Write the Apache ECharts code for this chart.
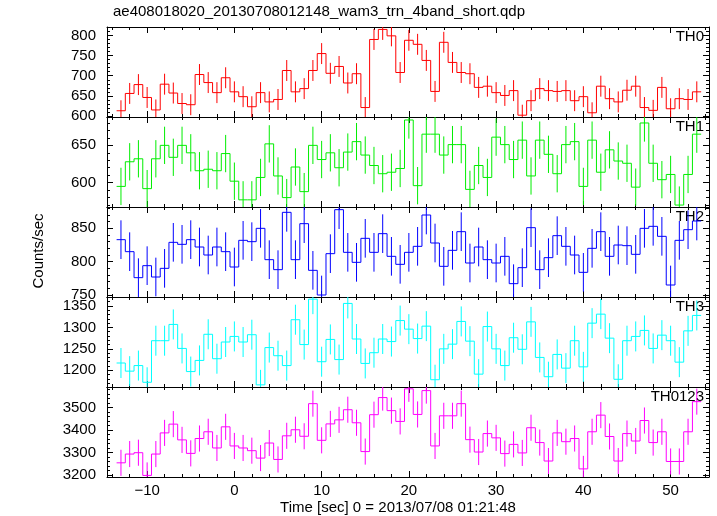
<!DOCTYPE html>
<html><head><meta charset="utf-8">
<script src="https://cdn.jsdelivr.net/npm/echarts@6/dist/echarts.min.js"></script>
<style>html,body{margin:0;padding:0;background:#fff}#c{width:717px;height:516px}</style>
</head><body><div id="c"></div>
<script>
// ---- data ----
const timeSec = [-13,-12,-11,-10,-9,-8,-7,-6,-5,-4,-3,-2,-1,0,1,2,3,4,5,6,7,8,9,10,11,12,13,14,15,16,17,18,19,20,21,22,23,24,25,26,27,28,29,30,31,32,33,34,35,36,37,38,39,40,41,42,43,44,45,46,47,48,49,50,51,52,53];
const th0 = [613,656,678,646,615,679,657,631,628,703,
             683,658,695,660,648,623,658,635,641,713,
             660,668,713,755,706,723,682,705,621,790,
             815,799,708,788,778,738,661,783,733,708,
             705,671,674,658,651,663,602,638,668,663,
             661,663,638,648,608,674,643,635,664,674,
             621,614,671,618,643,641,660];
const th1 = [595,628,632,592,632,650,634,650,640,616,
             618,616,639,602,577,577,607,652,609,580,
             621,588,650,631,640,620,641,655,637,623,
             612,614,619,684,596,665,665,637,651,651,
             591,623,607,661,651,631,657,609,657,638,
             612,651,655,595,657,614,644,629,626,594,
             680,626,604,611,570,611,665];
const th2 = [833,815,776,794,777,790,829,826,833,822,
             810,822,815,792,832,830,850,803,788,874,
             803,857,787,750,812,878,814,799,835,814,
             842,808,796,814,823,870,828,793,817,845,
             798,822,803,798,808,767,791,851,788,806,
             839,823,810,784,820,845,808,825,824,811,
             850,853,838,765,832,848,861];
const th3 = [1217,1198,1211,1172,1269,1269,1307,1251,1197,1223,
             1284,1227,1266,1279,1266,1283,1166,1253,1234,1211,
             1318,1260,1366,1220,1272,1225,1356,1273,1216,1241,
             1273,1267,1316,1296,1274,1303,1178,1250,1261,1314,
             1268,1191,1302,1250,1211,1276,1249,1313,1230,1185,
             1237,1205,1269,1208,1310,1331,1275,1179,1269,1279,
             1293,1251,1282,1269,1219,1292,1328];
const th0123 = [3255,3294,3300,3199,3294,3388,3427,3357,3297,3363,
                3393,3321,3415,3330,3321,3309,3276,3343,3270,3375,
                3402,3373,3518,3355,3428,3446,3491,3433,3305,3469,
                3545,3487,3439,3584,3470,3576,3330,3464,3464,3518,
                3358,3303,3385,3366,3296,3337,3299,3411,3345,3263,
                3388,3349,3363,3228,3393,3467,3372,3263,3385,3352,
                3443,3345,3393,3261,3261,3393,3527];
const errHalf = [26, 25, 29, 35, 58];
const panelNames = ['TH0', 'TH1', 'TH2', 'TH3', 'TH0123'];
const yMajorTicks = [[600,650,700,750,800],[600,650],[750,800,850],[1200,1250,1300,1350],[3200,3300,3400,3500]];
const yMinorStep = [10, 10, 10, 10, 20];
const yMin = [597.5, 567.4, 747, 1161, 3192];
const yMax = [821, 688, 882, 1371, 3592];
const xMajorTicks = [-10, 0, 10, 20, 30, 40, 50];
const xMinorStep = 2;
const xMin = -14.6, xMax = 54.4;
const binWidth = 1;
const titleText = 'ae408018020_20130708012148_wam3_trn_4band_short.qdp';
const xTitle = 'Time [sec] 0 = 2013/07/08 01:21:48';
const yTitle = 'Counts/sec';

// ---- styling ----
const panelSeries = [th0, th1, th2, th3, th0123];
const panelColors = ['#ff0000', '#00ee00', '#0000ff', '#00ffff', '#ff00ff'];
const FONT = 'Liberation Sans, Arial, Helvetica, sans-serif';
const gridLeft = 107, gridRight = 8, gridTop0 = 27, panelH = 90;

function stepValues(lo, hi, step) {
  const out = [];
  for (let v = Math.ceil(lo / step) * step; v <= hi; v += step) out.push(v);
  return out;
}

const grids = [], xAxes = [], yAxes = [], series = [], graphics = [];
panelSeries.forEach((vals, g) => {
  const top = gridTop0 + panelH * g;
  grids.push({left: gridLeft, right: gridRight, top: top, height: panelH, containLabel: false});
  const last = g === panelSeries.length - 1;
  const xMinor = stepValues(xMin, xMax, xMinorStep);
  const yMinor = stepValues(yMin[g], yMax[g], yMinorStep[g]);
  const baseX = {type: 'value', gridIndex: g, min: xMin, max: xMax, splitLine: {show: false},
                 axisLine: {show: false, onZero: false}, axisLabel: {show: false}};
  xAxes.push(Object.assign({}, baseX, {position: 'bottom',
    axisLine: {show: true, onZero: false, lineStyle: {color: '#000', width: 1}},
    axisTick: {show: true, inside: true, length: 6, customValues: xMajorTicks, lineStyle: {color: '#000'}},
    axisLabel: last ? {show: true, customValues: xMajorTicks, color: '#000', fontSize: 15, fontFamily: FONT, margin: 6,
      formatter: v => String(v).replace('-', '\u2212')} : {show: false}}));
  xAxes.push(Object.assign({}, baseX, {position: 'top',
    axisLine: {show: true, onZero: false, lineStyle: {color: '#000', width: 1}},
    axisTick: {show: true, inside: true, length: 6, customValues: xMajorTicks, lineStyle: {color: '#000'}}}));
  xAxes.push(Object.assign({}, baseX, {position: 'bottom',
    axisTick: {show: true, inside: true, length: 3, customValues: xMinor, lineStyle: {color: '#000'}}}));
  xAxes.push(Object.assign({}, baseX, {position: 'top',
    axisTick: {show: true, inside: true, length: 3, customValues: xMinor, lineStyle: {color: '#000'}}}));

  const baseY = {type: 'value', gridIndex: g, min: yMin[g], max: yMax[g], splitLine: {show: false},
                 axisLine: {show: false, onZero: false}, axisLabel: {show: false}};
  yAxes.push(Object.assign({}, baseY, {position: 'left',
    axisLine: {show: true, onZero: false, lineStyle: {color: '#000', width: 1}},
    axisTick: {show: true, inside: true, length: 6, customValues: yMajorTicks[g], lineStyle: {color: '#000'}},
    axisLabel: {show: true, customValues: yMajorTicks[g], color: '#000', fontSize: 15, fontFamily: FONT, margin: 11,
      formatter: v => String(v)}}));
  yAxes.push(Object.assign({}, baseY, {position: 'right',
    axisLine: {show: true, onZero: false, lineStyle: {color: '#000', width: 1}},
    axisTick: {show: true, inside: true, length: 6, customValues: yMajorTicks[g], lineStyle: {color: '#000'}}}));
  yAxes.push(Object.assign({}, baseY, {position: 'left',
    axisTick: {show: true, inside: true, length: 3, customValues: yMinor, lineStyle: {color: '#000'}}}));
  yAxes.push(Object.assign({}, baseY, {position: 'right',
    axisTick: {show: true, inside: true, length: 3, customValues: yMinor, lineStyle: {color: '#000'}}}));

  const data = timeSec.map((t, i) => [t, vals[i], errHalf[g], i > 0 ? vals[i - 1] : vals[i]]);
  const color = panelColors[g];
  series.push({
    type: 'custom', name: panelNames[g], xAxisIndex: 4 * g, yAxisIndex: 4 * g, data: data,
    clip: true, silent: true,
    renderItem: function (params, api) {
      const t = api.value(0), v = api.value(1), e = api.value(2), p = api.value(3);
      const lo = Math.max(v - e, yMin[g]), hi = Math.min(v + e, yMax[g]);
      const a = api.coord([t - binWidth / 2, v]);
      const b = api.coord([t + binWidth / 2, v]);
      const c = api.coord([t - binWidth / 2, p]);
      const e1 = api.coord([t, lo]), e2 = api.coord([t, hi]);
      const st = {stroke: color, lineWidth: 1};
      const children = [
        {type: 'line', shape: {x1: a[0], y1: a[1], x2: b[0], y2: b[1]}, style: st},
        {type: 'line', shape: {x1: e1[0], y1: e1[1], x2: e2[0], y2: e2[1]}, style: st}
      ];
      if (params.dataIndex > 0) {
        children.push({type: 'line', shape: {x1: c[0], y1: c[1], x2: a[0], y2: a[1]}, style: st});
      }
      return {type: 'group', children: children};
    }
  });

  graphics.push({type: 'text', x: 704, y: top + 10,
    style: {text: panelNames[g], fill: '#000', font: '15px ' + FONT, textAlign: 'right', textVerticalAlign: 'middle'}});
});

graphics.push({type: 'text', x: 113, y: 12,
  style: {text: titleText, fill: '#000', font: '15px ' + FONT, textAlign: 'left', textVerticalAlign: 'middle'}});
graphics.push({type: 'text', x: 398, y: 508,
  style: {text: xTitle, fill: '#000', font: '15px ' + FONT, textAlign: 'center', textVerticalAlign: 'middle'}});
graphics.push({type: 'text', x: 39, y: 251, rotation: Math.PI / 2,
  style: {text: yTitle, fill: '#000', font: '15px ' + FONT, textAlign: 'center', textVerticalAlign: 'middle'}});

const chart = echarts.init(document.getElementById('c'), null, {renderer: 'canvas'});
chart.setOption({
  animation: false,
  backgroundColor: '#fff',
  grid: grids,
  xAxis: xAxes,
  yAxis: yAxes,
  series: series,
  graphic: graphics
});
</script>
</body></html>
